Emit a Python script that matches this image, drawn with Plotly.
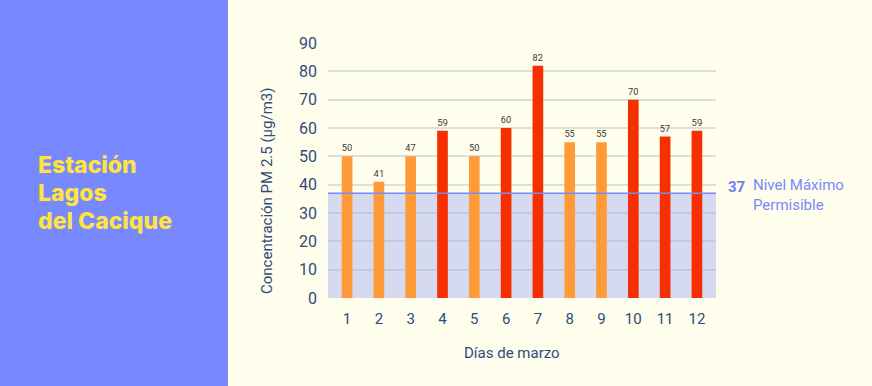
import plotly.graph_objects as go

days = [str(i) for i in range(1, 13)]
bar_values = [50, 41, 50, 59, 50, 60, 82, 55, 55, 70, 57, 59]
bar_labels = ["50", "41", "47", "59", "50", "60", "82", "55", "55", "70", "57", "59"]
bar_colors = ["#FF9A38", "#FF9A38", "#FF9A38", "#F52F00", "#FF9A38", "#F52F00",
              "#F52F00", "#FF9A38", "#FF9A38", "#F52F00", "#F52F00", "#F52F00"]
limit_value = 37
y_ticks = [0, 10, 20, 30, 40, 50, 60, 70, 80, 90]
title_lines = ["Estación", "Lagos", "del Cacique"]

W, H = 872, 386
L, R, T, B = 328, 156, 43, 88
pw, ph = W - L - R, H - T - B

def px_x(p):
    return (p - L) / pw

def px_y(p):
    return (H - B - p) / ph

fig = go.Figure()
fig.add_trace(go.Bar(
    x=days, y=bar_values, marker=dict(color=bar_colors, line=dict(width=0)),
    text=bar_labels, textposition="outside", cliponaxis=False,
    textfont=dict(family="Roboto", size=10, color="#3A3A3A"),
    hoverinfo="skip",
))

shapes = [
    dict(type="rect", xref="paper", yref="paper", x0=px_x(-5), x1=px_x(228),
         y0=px_y(H + 5), y1=px_y(-5), fillcolor="#7889FF", line=dict(width=0), layer="below"),
    dict(type="rect", xref="paper", yref="y", x0=0, x1=1, y0=0, y1=limit_value,
         fillcolor="#D6DAF0", line=dict(width=0), layer="below"),
    dict(type="line", xref="paper", yref="y", x0=0, x1=1, y0=limit_value, y1=limit_value,
         line=dict(color="#7889FF", width=1.5), layer="above"),
]

annotations = []
for i, line in enumerate(title_lines):
    annotations.append(dict(
        xref="paper", yref="paper", x=px_x(37), y=px_y(165 + 28 * i),
        xanchor="left", yanchor="middle", text=line, showarrow=False, borderpad=0,
        font=dict(family="Inter", size=23, weight=800, color="#FFE53B")))
annotations += [
    dict(xref="paper", yref="y", x=px_x(726), y=limit_value, xanchor="left", yanchor="middle",
         text="<b>37</b>", showarrow=False, yshift=6,
         font=dict(family="Roboto", size=15, color="#6F80F5")),
    dict(xref="paper", yref="y", x=px_x(751), y=limit_value, xanchor="left", yanchor="middle",
         text="Nivel Máximo<br>Permisible", showarrow=False, align="left", yshift=-2,
         font=dict(family="Roboto", size=15, color="#7889FF")),
    dict(xref="paper", yref="paper", x=px_x(267), y=px_y(191), xanchor="center", yanchor="middle",
         text="Concentración PM 2.5 (µg/m3)", showarrow=False, textangle=-90,
         font=dict(family="Roboto", size=15, color="#2E4C80")),
    dict(xref="paper", yref="paper", x=px_x(512), y=px_y(353), xanchor="center", yanchor="middle",
         text="Días de marzo", showarrow=False,
         font=dict(family="Roboto", size=15, color="#2E4C80")),
]

fig.update_layout(
    width=W, height=H,
    margin=dict(l=L, r=R, t=T, b=B, pad=0),
    paper_bgcolor="#FFFDEB", plot_bgcolor="rgba(0,0,0,0)",
    bargap=0.664, showlegend=False,
    shapes=shapes, annotations=annotations,
    xaxis=dict(
        type="category", range=[-0.6, 11.6], showgrid=False, showline=False, zeroline=False,
        ticks="", ticklabelstandoff=10,
        tickfont=dict(family="Roboto", size=15, color="#2E4C80"),
    ),
    yaxis=dict(
        range=[0, 90], tickvals=y_ticks, showgrid=True,
        gridcolor="rgba(150,185,190,0.38)", gridwidth=1.5, zeroline=False, showline=False,
        ticks="", ticklabelstandoff=10,
        tickfont=dict(family="Roboto", size=16, color="#2E4C80"),
    ),
)

fig.write_html("out.html", config={"displayModeBar": False},
               post_script="document.body.style.margin='0';")
